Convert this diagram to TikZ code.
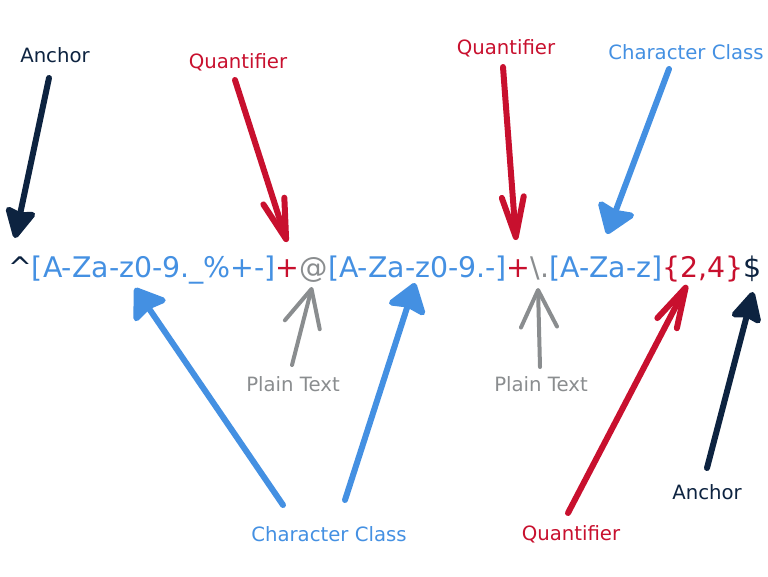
\documentclass[tikz,border=0pt]{standalone}
\usepackage{fontspec}
\setmainfont{DejaVu Sans}
\usetikzlibrary{arrows.meta}
\definecolor{navy}{RGB}{13,35,64}
\definecolor{qred}{RGB}{200,16,46}
\definecolor{cblue}{RGB}{68,144,226}
\definecolor{pgray}{RGB}{138,141,143}
\tikzset{
  lbl/.style={anchor=base,inner sep=0pt,font=\fontsize{19.7}{22}\selectfont},
  navyarrow/.style={draw=navy,fill=navy,line width=6pt,line cap=round,-{Stealth[length=34pt,width=34pt,inset=4pt,round]}},
  bluearrow/.style={draw=cblue,fill=cblue,line width=6pt,line cap=round,-{Stealth[length=32pt,width=44pt,inset=4pt,round]}},
  redarrow/.style={draw=qred,line width=6pt,line cap=round,-{Straight Barb[length=40pt,width=22pt,round]}},
  grayarrow/.style={draw=pgray,line width=4pt,line cap=round,-{Straight Barb[length=37pt,width=36pt,round]}},
}
\begin{document}
\begin{tikzpicture}[x=1pt,y=-1pt]
\useasboundingbox (0,0) rectangle (768,576);
% regex
\node[anchor=base west,inner sep=0pt,font=\fontsize{28.4}{32}\selectfont] (rx) at (8,277)
 {\textcolor{navy}{\textasciicircum}\textcolor{cblue}{[A-Za-z0-9.\_\%+-]}\textcolor{qred}{+}\textcolor{pgray}{@}\textcolor{cblue}{[A-Za-z0-9.-]}\textcolor{qred}{+}\textcolor{pgray}{\textbackslash.}\textcolor{cblue}{[A-Za-z]}\textcolor{qred}{\{2,4\}}\textcolor{navy}{\$}};
% labels
\node[lbl,text=navy] (anchorT) at (55,62) {Anchor};
\node[lbl,text=qred] (quantL) at (238,68) {Quantifier};
\node[lbl,text=qred] (quantM) at (506,54) {Quantifier};
\node[lbl,text=cblue] (ccT) at (686,59) {Character Class};
\node[lbl,text=pgray] (plainL) at (293,391) {Plain Text};
\node[lbl,text=pgray] (plainR) at (541,391) {Plain Text};
\node[lbl,text=cblue] (ccB) at (329,541) {Character Class};
\node[lbl,text=qred] (quantB) at (571,540) {Quantifier};
\node[lbl,text=navy] (anchorB) at (707,499) {Anchor};
% arrow ends
\coordinate (a1s) at (49,78);   \coordinate (a1e) at (15,238);
\coordinate (a2s) at (235,80);  \coordinate (a2e) at (287,242);
\coordinate (a3s) at (503,67);  \coordinate (a3e) at (516,240);
\coordinate (a4s) at (669,69);  \coordinate (a4e) at (607,234);
\coordinate (a5s) at (283,505); \coordinate (a5e) at (135,288);
\coordinate (a6s) at (345,500); \coordinate (a6e) at (415,283);
\coordinate (a7s) at (292,365); \coordinate (a7e) at (312,287);
\coordinate (a8s) at (540,367); \coordinate (a8e) at (538,288);
\coordinate (a9s) at (568,513); \coordinate (a9e) at (687,285);
\coordinate (a10s) at (707,468); \coordinate (a10e) at (753,292);
\draw[navyarrow] (a1s) -- (a1e);
\draw[redarrow] (a2s) -- (a2e);
\draw[redarrow] (a3s) -- (a3e);
\draw[bluearrow] (a4s) -- (a4e);
\draw[bluearrow] (a5s) -- (a5e);
\draw[bluearrow] (a6s) -- (a6e);
\draw[grayarrow] (a7s) -- (a7e);
\draw[grayarrow] (a8s) -- (a8e);
\draw[redarrow] (a9s) -- (a9e);
\draw[navyarrow] (a10s) -- (a10e);
\end{tikzpicture}
\end{document}
